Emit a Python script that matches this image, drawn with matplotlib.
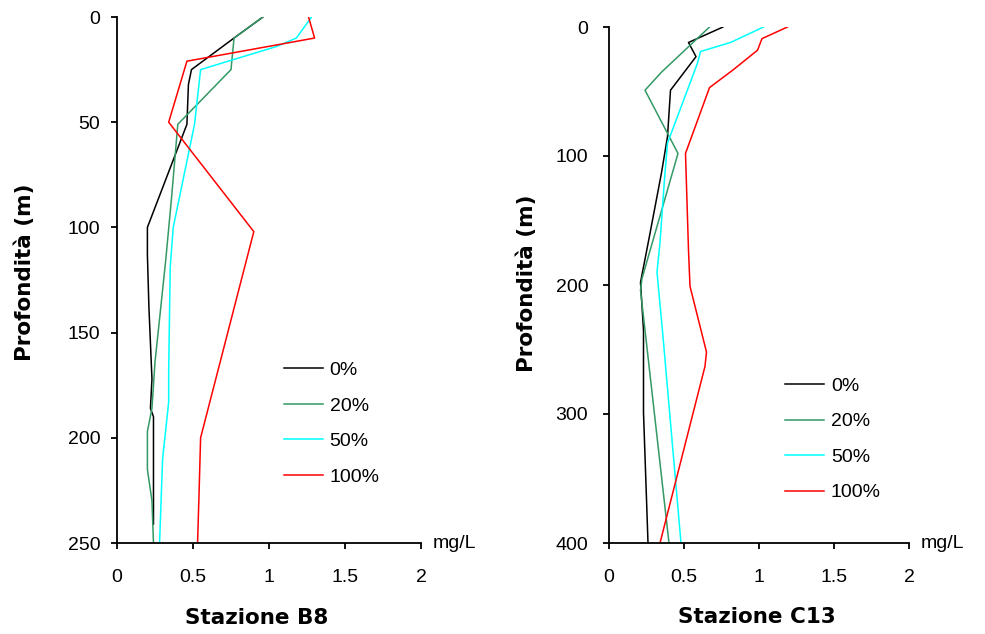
import matplotlib.pyplot as plt

# dati: concentrazione (mg/L) e profondita (m)
labels = ["0%", "20%", "50%", "100%"]
colors = ["black", "#339966", "#00ffff", "#ff0000"]

# Stazione B8
b8_0_x = [0.96, 0.77, 0.49, 0.47, 0.46, 0.20, 0.20, 0.21, 0.23, 0.22, 0.24, 0.24]
b8_0_z = [0, 10, 25, 32, 51, 100, 113, 138, 172, 186, 190, 241]
b8_20_x = [0.96, 0.77, 0.75, 0.40, 0.36, 0.32, 0.25, 0.23, 0.20, 0.20, 0.23, 0.24]
b8_20_z = [0, 10, 25, 51, 85, 116, 164, 186, 197, 215, 230, 250]
b8_50_x = [1.28, 1.18, 1.05, 0.55, 0.51, 0.37, 0.35, 0.34, 0.34, 0.30, 0.28]
b8_50_z = [0, 10, 14, 25, 51, 100, 119, 168, 183, 210, 250]
b8_100_x = [1.26, 1.30, 0.46, 0.34, 0.90, 0.55, 0.54, 0.53]
b8_100_z = [0, 10, 21, 50, 102, 200, 226, 250]

# Stazione C13
c13_0_x = [0.76, 0.53, 0.58, 0.41, 0.39, 0.35, 0.27, 0.21, 0.23, 0.23, 0.25, 0.26]
c13_0_z = [0, 12, 23, 49, 85, 113, 162, 198, 235, 299, 366, 400]
c13_20_x = [0.67, 0.35, 0.24, 0.46, 0.22, 0.21, 0.40]
c13_20_z = [0, 35, 49, 98, 195, 204, 400]
c13_50_x = [1.03, 0.81, 0.61, 0.59, 0.39, 0.37, 0.34, 0.32, 0.36, 0.48]
c13_50_z = [0, 12, 19, 28, 90, 118, 167, 190, 240, 400]
c13_100_x = [1.19, 1.02, 0.99, 0.83, 0.67, 0.51, 0.53, 0.54, 0.65, 0.64, 0.34]
c13_100_z = [0, 9, 18, 33, 47, 98, 173, 201, 252, 263, 400]

b8_series = [(b8_0_x, b8_0_z), (b8_20_x, b8_20_z), (b8_50_x, b8_50_z), (b8_100_x, b8_100_z)]
c13_series = [(c13_0_x, c13_0_z), (c13_20_x, c13_20_z), (c13_50_x, c13_50_z), (c13_100_x, c13_100_z)]

plt.rcParams['font.family'] = ['Liberation Sans', 'DejaVu Sans']

fig = plt.figure(figsize=(9.85, 6.34), dpi=100)
ax1 = fig.add_axes([117 / 985, 1 - 543 / 634, 304 / 985, 526 / 634])
ax2 = fig.add_axes([609 / 985, 1 - 543 / 634, 300 / 985, 516 / 634])


def draw_panel(ax, series, zmax, zstep, leg_anchor, ypad):
    for (x, z), c, lab in zip(series, colors, labels):
        ax.plot(x, z, color=c, lw=1.1, label=lab)
    ax.set_xlim(0, 2)
    ax.set_ylim(zmax, 0)
    ax.set_xticks([0, 0.5, 1, 1.5, 2])
    ax.set_xticklabels(["0", "0.5", "1", "1.5", "2"])
    ax.set_yticks(range(0, zmax + 1, zstep))
    for s in ["top", "right"]:
        ax.spines[s].set_visible(False)
    for s in ["left", "bottom"]:
        ax.spines[s].set_linewidth(1.3)
    ax.tick_params(axis='x', direction='out', length=4, width=1.3, pad=15, labelsize=14)
    ax.tick_params(axis='y', direction='out', length=4, width=1.3, pad=ypad, labelsize=14)
    ax.text(1.04, 0.0, "mg/L", transform=ax.transAxes, fontsize=14, ha='left', va='center')
    ax.legend(loc='upper left', bbox_to_anchor=leg_anchor, frameon=False, fontsize=14,
              handlelength=2.0, handletextpad=0.35, labelspacing=0.92, borderpad=0, borderaxespad=0)


draw_panel(ax1, b8_series, 250, 50, (0.549, 0.345), 8)
draw_panel(ax2, c13_series, 400, 100, (0.587, 0.321), 11)

# titoli ed etichette degli assi
fig.text(257 / 985, 1 - 618 / 634, "Stazione B8", ha='center', va='center',
         fontsize=15.5, fontweight='bold', family='DejaVu Sans')
fig.text(757 / 985, 1 - 617 / 634, "Stazione C13", ha='center', va='center',
         fontsize=15.5, fontweight='bold', family='DejaVu Sans')
fig.text(25 / 985, 1 - 272 / 634, "Profondità (m)", ha='center', va='center', rotation=90,
         fontsize=15.5, fontweight='bold', family='DejaVu Sans')
fig.text(527 / 985, 1 - 283 / 634, "Profondità (m)", ha='center', va='center', rotation=90,
         fontsize=15.5, fontweight='bold', family='DejaVu Sans')

fig.savefig('out.png', dpi=100)
